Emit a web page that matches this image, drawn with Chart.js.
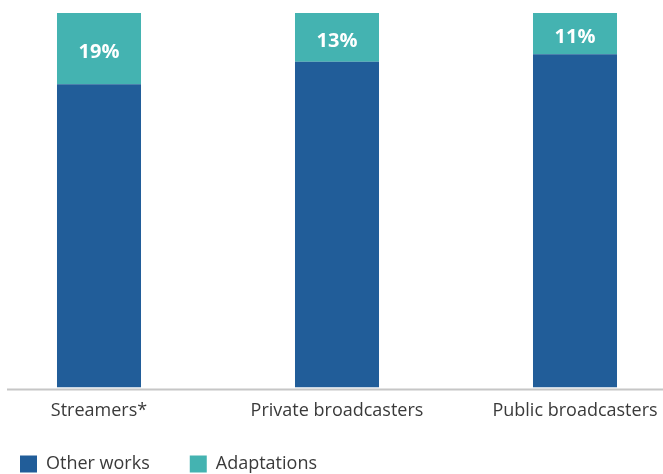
<!DOCTYPE html>
<html>
<head>
<meta charset="utf-8">
<script src="https://cdn.jsdelivr.net/npm/chart.js@4"></script>
<style>
  html, body { margin: 0; padding: 0; background: #fff; overflow: hidden; width: 663px; height: 474px; }
  #wrap { position: absolute; left: -20px; top: 0; width: 714px; height: 503px; }
</style>
</head>
<body>
<div id="wrap"><canvas id="c"></canvas></div>
<script>
const categories = ["Streamers*", "Private broadcasters", "Public broadcasters"];
const otherWorks = [81, 87, 89];
const adaptations = [19, 13, 11];
const seriesNames = ["Other works", "Adaptations"];

const valueLabels = {
  id: 'valueLabels',
  afterDatasetsDraw(chart) {
    const ctx = chart.ctx;
    const meta = chart.getDatasetMeta(1);
    ctx.save();
    ctx.fillStyle = '#ffffff';
    ctx.font = 'bold 20px "Open Sans", sans-serif';
    ctx.textAlign = 'center';
    ctx.textBaseline = 'middle';
    meta.data.forEach((bar, i) => {
      const p = bar.getProps(['x', 'y', 'base'], true);
      ctx.fillText(adaptations[i] + '%', p.x, (p.y + p.base) / 2 + 4);
    });
    ctx.restore();
  }
};

const axisLine = {
  id: 'axisLine',
  afterDatasetsDraw(chart) {
    const ctx = chart.ctx;
    const y = chart.scales.y.getPixelForValue(0) + 2;
    ctx.save();
    ctx.strokeStyle = '#c6c6c6';
    ctx.lineWidth = 2;
    ctx.beginPath();
    ctx.moveTo(27, y);
    ctx.lineTo(chart.width, y);
    ctx.stroke();
    ctx.restore();
  }
};

const legendShift = {
  id: 'legendShift',
  afterLayout(chart) {
    const l = chart.legend;
    if (l) { l.top -= 20; l.bottom -= 20; }
  }
};

new Chart(document.getElementById('c'), {
  type: 'bar',
  data: {
    labels: categories,
    datasets: [
      { label: seriesNames[0], data: otherWorks, backgroundColor: '#215d99', borderWidth: 0 },
      { label: seriesNames[1], data: adaptations, backgroundColor: '#44b3b1', borderWidth: 0 }
    ]
  },
  options: {
    responsive: true,
    maintainAspectRatio: false,
    animation: false,
    layout: { padding: { top: 13, left: 0, right: 0, bottom: 0 } },
    datasets: { bar: { categoryPercentage: 1, barPercentage: 0.353 } },
    scales: {
      x: {
        stacked: true,
        grid: { display: false, drawTicks: false },
        border: { display: false },
        ticks: { color: '#3a3a3a', font: { family: '"Open Sans", sans-serif', size: 18 }, padding: 13 }
      },
      y: {
        stacked: true,
        display: false,
        min: 0,
        max: 100
      }
    },
    plugins: {
      legend: {
        position: 'bottom',
        align: 'start',
        labels: {
          boxWidth: 17,
          boxHeight: 17,
          padding: 40,
          color: '#3a3a3a',
          font: { family: '"Open Sans", sans-serif', size: 18 }
        }
      },
      tooltip: { enabled: false }
    }
  },
  plugins: [valueLabels, axisLine, legendShift]
});
</script>
</body>
</html>
